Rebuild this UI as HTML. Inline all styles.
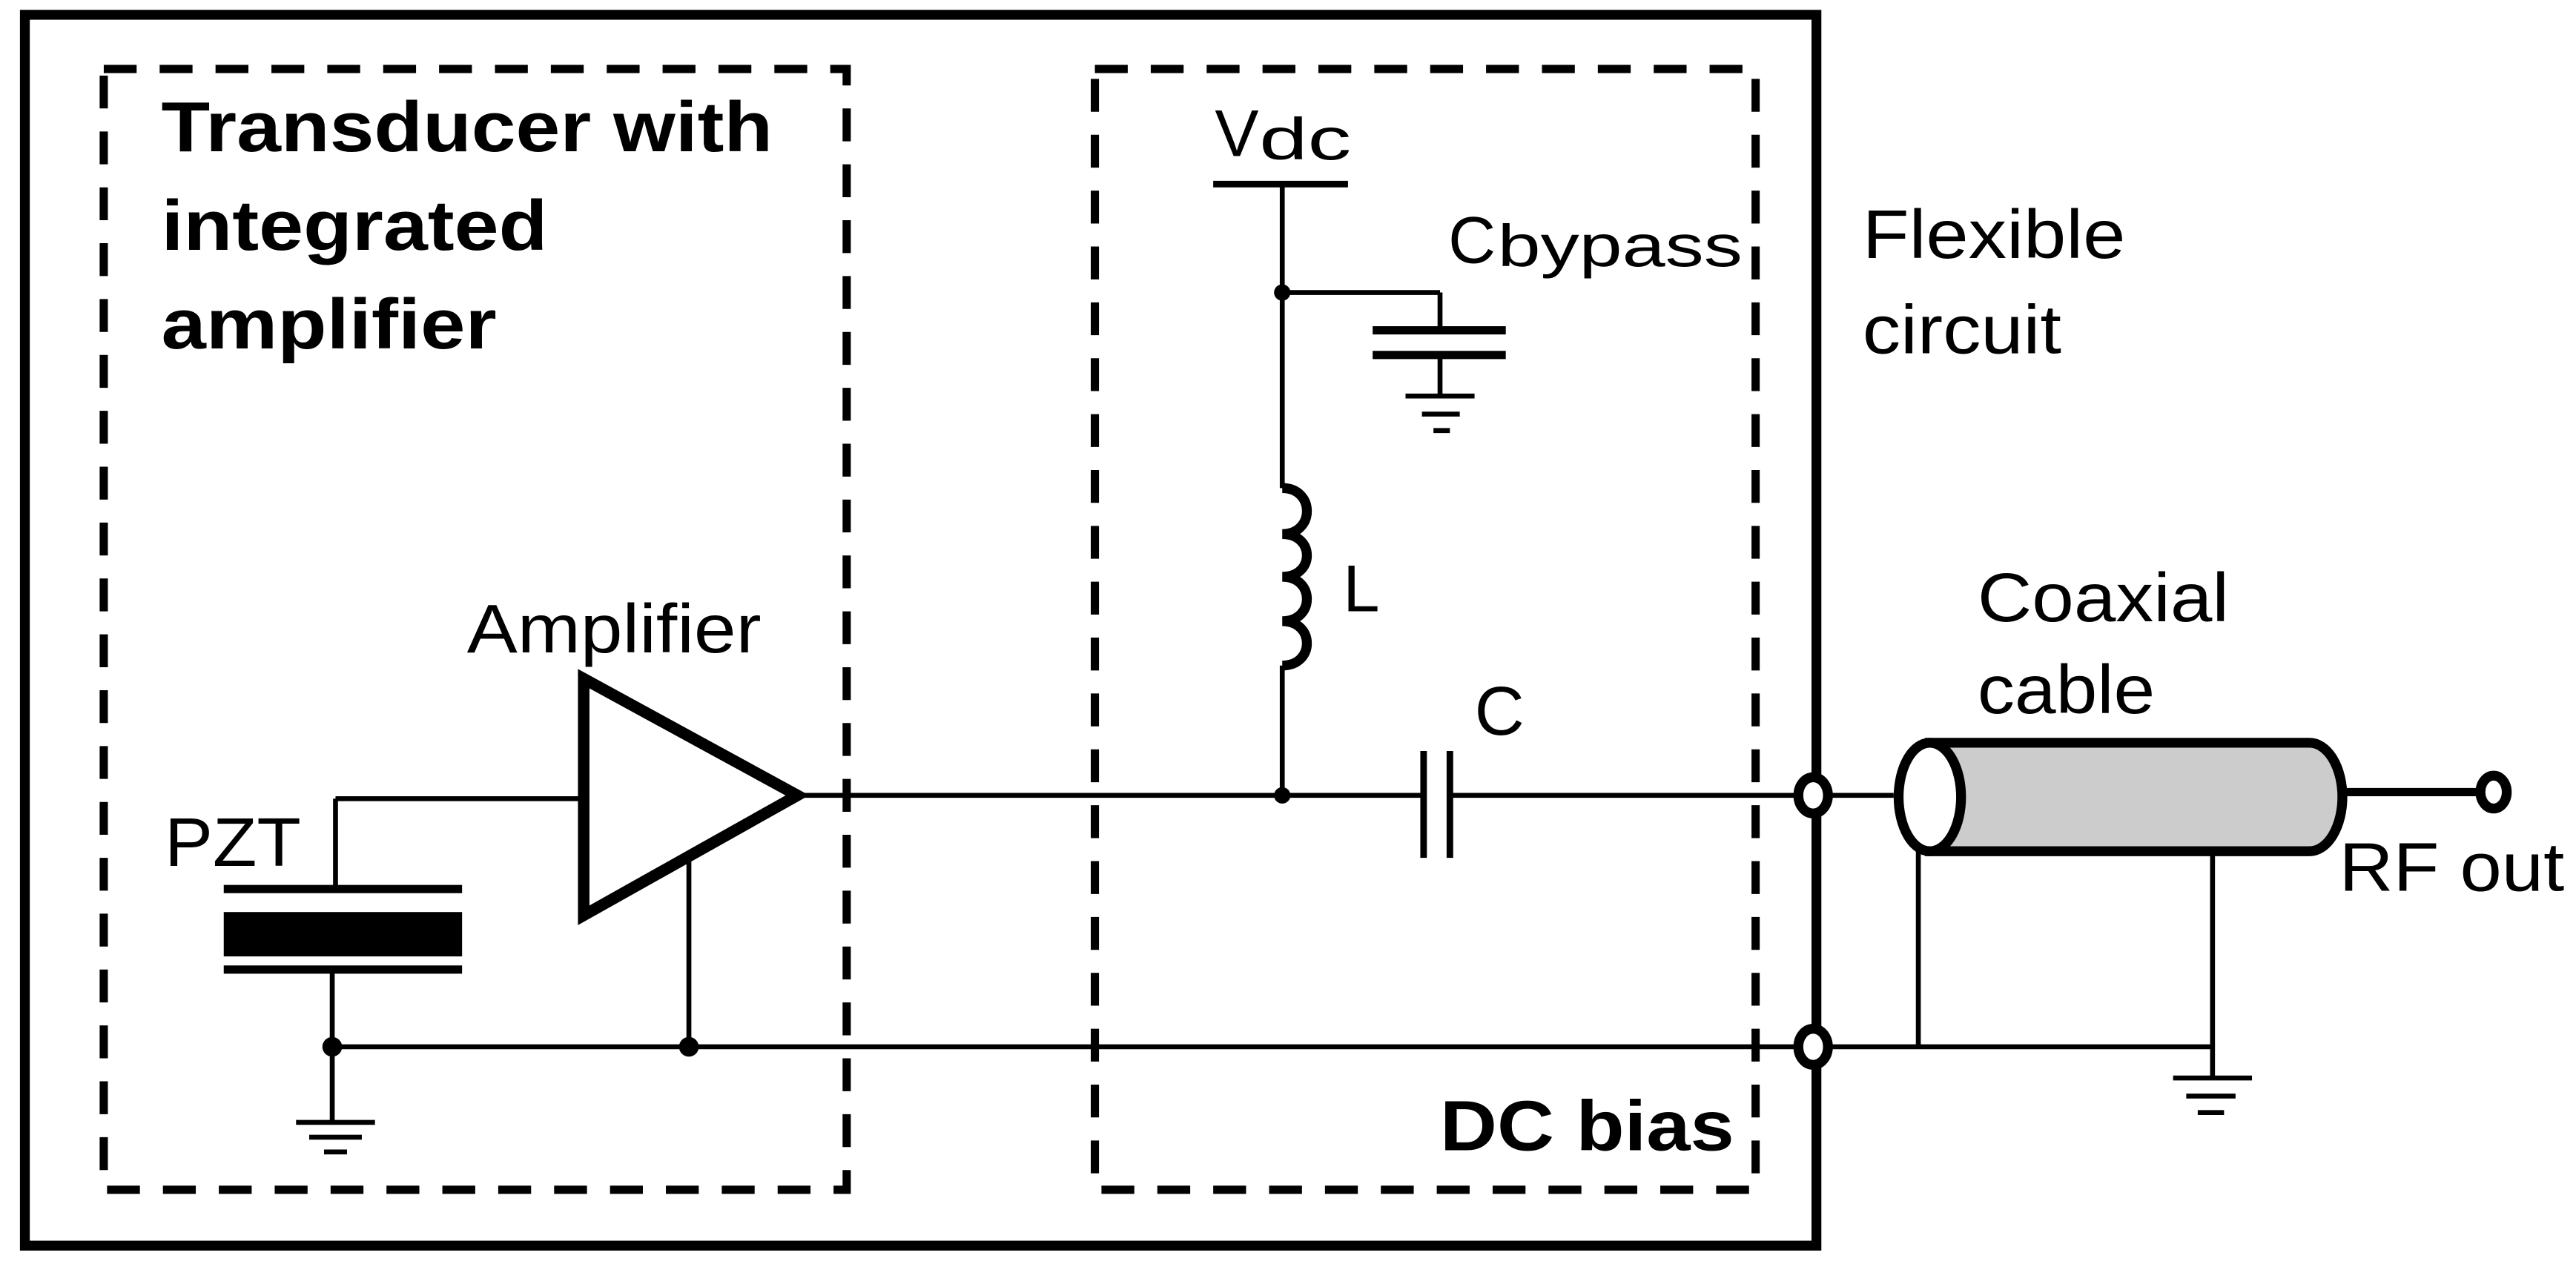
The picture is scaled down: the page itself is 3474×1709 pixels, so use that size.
<!DOCTYPE html>
<html><head><meta charset="utf-8"><style>html,body{margin:0;padding:0;background:#fff}svg{display:block}</style></head>
<body>
<svg width="3474" height="1709" viewBox="0 0 1567 771" xmlns="http://www.w3.org/2000/svg" font-family="Liberation Sans, Arial, sans-serif">
<rect x="0" y="0" width="1567" height="771" fill="#fff"/>
<rect x="15" y="9" width="1090" height="749" fill="none" stroke="#000" stroke-width="6"/>
<rect x="63" y="42" width="452" height="682" fill="none" stroke="#000" stroke-width="5" stroke-dasharray="20 14"/>
<rect x="666" y="42" width="402" height="682" fill="none" stroke="#000" stroke-width="5" stroke-dasharray="20 14"/>
<g font-weight="bold" font-size="43">
<text x="98" y="92" textLength="372" lengthAdjust="spacingAndGlyphs">Transducer with</text>
<text x="98" y="152" textLength="235" lengthAdjust="spacingAndGlyphs">integrated</text>
<text x="98" y="212" textLength="204" lengthAdjust="spacingAndGlyphs">amplifier</text>
<text x="876" y="700" textLength="179" lengthAdjust="spacingAndGlyphs">DC bias</text>
</g>
<g font-size="42">
<text x="739" y="95" font-size="40">V</text>
<text x="766" y="97" font-size="36" textLength="56" lengthAdjust="spacingAndGlyphs">dc</text>
<text x="881" y="160" font-size="40">C</text>
<text x="911" y="162" font-size="36" textLength="149" lengthAdjust="spacingAndGlyphs">bypass</text>
<text x="817" y="372" font-size="40">L</text>
<text x="897" y="447" font-size="42">C</text>
<text x="1133" y="157" textLength="160" lengthAdjust="spacingAndGlyphs">Flexible</text>
<text x="1133" y="215" textLength="121" lengthAdjust="spacingAndGlyphs">circuit</text>
<text x="1203" y="378" textLength="153" lengthAdjust="spacingAndGlyphs">Coaxial</text>
<text x="1203" y="434" textLength="108" lengthAdjust="spacingAndGlyphs">cable</text>
<text x="1423" y="542" textLength="137" lengthAdjust="spacingAndGlyphs">RF out</text>
<text x="284" y="397" textLength="179" lengthAdjust="spacingAndGlyphs">Amplifier</text>
<text x="100" y="527" textLength="83" lengthAdjust="spacingAndGlyphs">PZT</text>
</g>
<g stroke="#000" fill="none" stroke-width="3">
<line x1="738" y1="112" x2="820" y2="112" stroke-width="4"/>
<line x1="780" y1="112" x2="780" y2="297"/>
<line x1="780" y1="178" x2="876" y2="178"/>
<line x1="876" y1="178" x2="876" y2="200"/>
<line x1="835" y1="201" x2="916" y2="201" stroke-width="5"/>
<line x1="835" y1="216" x2="916" y2="216" stroke-width="5"/>
<line x1="876" y1="216" x2="876" y2="240"/>
<line x1="855" y1="241" x2="897" y2="241"/>
<line x1="865" y1="252" x2="888" y2="252"/>
<line x1="872" y1="262" x2="882" y2="262"/>
<path d="M780 297 C800 297 800 325 780 325 C800 325 800 351 780 351 C800 351 800 378 780 378 C800 378 800 405 780 405" stroke-width="6"/>
<line x1="780" y1="405" x2="780" y2="484"/>
<line x1="487" y1="484" x2="866" y2="484"/>
<line x1="882" y1="484" x2="1092" y2="484"/>
<line x1="866" y1="457" x2="866" y2="522" stroke-width="4"/>
<line x1="882" y1="457" x2="882" y2="522" stroke-width="4"/>
<polygon points="355,413 355,557 485,484" stroke-width="7"/>
<line x1="352" y1="486" x2="204" y2="486"/>
<line x1="204" y1="486" x2="204" y2="541"/>
<line x1="136" y1="541" x2="281" y2="541" stroke-width="5"/>
<line x1="136" y1="590" x2="281" y2="590" stroke-width="5"/>
<line x1="202" y1="590" x2="202" y2="683"/>
<line x1="180" y1="683" x2="228" y2="683"/>
<line x1="188" y1="692" x2="220" y2="692"/>
<line x1="197" y1="701" x2="211" y2="701"/>
<line x1="419" y1="522" x2="419" y2="637"/>
<line x1="202" y1="637" x2="1093" y2="637"/>
<line x1="1113" y1="637" x2="1346" y2="637"/>
<line x1="1113" y1="484" x2="1152" y2="484"/>
<line x1="1167" y1="518" x2="1167" y2="637"/>
<line x1="1346" y1="517" x2="1346" y2="655"/>
<line x1="1322" y1="656" x2="1370" y2="656"/>
<line x1="1330" y1="667" x2="1360" y2="667"/>
<line x1="1337" y1="677" x2="1353" y2="677"/>
<line x1="1427" y1="482" x2="1508" y2="482" stroke-width="5"/>
</g>
<rect x="136" y="555" width="145" height="27" fill="#000"/>
<g fill="#000">
<circle cx="780" cy="178" r="5"/>
<circle cx="780" cy="484" r="5"/>
<circle cx="202" cy="637" r="6"/>
<circle cx="419" cy="637" r="6"/>
</g>
<path d="M1174 452 L1405 452 A20 33 0 0 1 1405 518 L1174 518 Z" fill="#cccccc" stroke="#000" stroke-width="6"/>
<ellipse cx="1174" cy="485" rx="19" ry="33" fill="#fff" stroke="#000" stroke-width="6"/>
<g fill="#fff" stroke="#000" stroke-width="6">
<ellipse cx="1103" cy="484" rx="9" ry="11"/>
<ellipse cx="1103" cy="637" rx="9" ry="11"/>
<ellipse cx="1517" cy="482" rx="8" ry="10"/>
</g>
</svg>
</body></html>
